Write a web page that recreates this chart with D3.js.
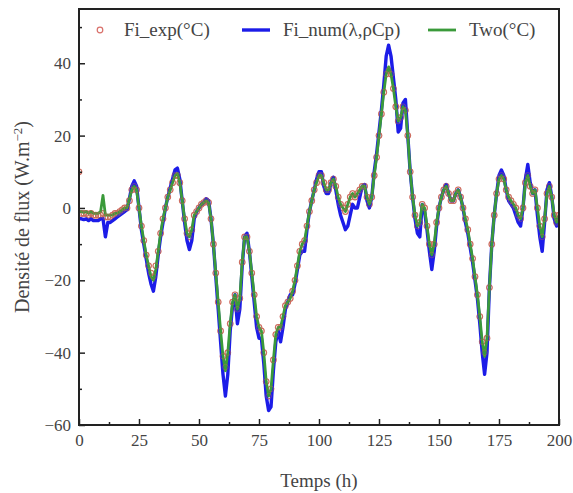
<!DOCTYPE html>
<html><head><meta charset="utf-8">
<script src="https://cdn.jsdelivr.net/npm/d3@7"></script>
<style>body{margin:0;background:#fff}svg{display:block}</style>
</head><body>
<svg id="c" width="573" height="493"></svg>
<script>
// hours 0..200 (hourly samples)
const hours = d3.range(0, 201);
const seriesNames = ["Fi_exp(°C)", "Fi_num(λ,ρCp)", "Two(°C)"];
const xTicks = [0,25,50,75,100,125,150,175,200];
const yTicks = [-60,-40,-20,0,20,40];

const twoVals = [
-1,-1,-1.2,-1,-1.5,-1,-1.5,-1.5,-1.5,-1,
3.5,-2,-2,-2,-2,-1.5,-1.5,-1,-0.5,0,
0,2.5,5,6,5,0,-5,-9,-13,-16,
-19,-20,-17,-12,-7,-3,0,3,5,7,
9,9.5,7,2,-3,-7,-8,-6,-2,-1,
0,1,1.5,2,1.5,-3,-10,-18,-26,-34,
-41,-45,-40,-32,-26,-24,-28,-25,-15,-8,
-8,-12,-18,-24,-30,-33,-34,-40,-48,-52,
-50,-42,-35,-33,-33,-30,-27,-26,-25,-23,
-20,-16,-12,-10,-9,-5,-1,2,5,7,
9,9,7,5,5,7,8,6,3,1,
0,-1,1,3,4,3,4,5,6,6,
3,1,3,9,14,20,26,32,37,39,
37,33,28,24,25,28,27,20,10,3,
-2,-5,-4,1,0,-5,-10,-13,-10,-4,
0,3,5,6,4,2,2,4,5,3,
0,-3,-6,-10,-14,-19,-24,-30,-37,-41,
-36,-22,-10,-2,4,8,9,8,5,3,
2,1,0,-2,-3,0,7,9,6,4,
5,0,-5,-8,-3,4,6,3,-2,-4,
-2];

const numVals = [
-3,-3,-3.2,-3,-3.5,-3,-3.5,-3.5,-3.5,-3,
-3,-8,-4,-4,-3.5,-3,-2.5,-2,-1.5,-1,
-0.5,2.5,6,7.5,6,0,-6,-10,-14,-18,
-21,-23,-19,-13,-8,-4,0,3,5.5,8,
10.5,11,8,2,-4,-9,-11.5,-9,-3,-1,
0,1,1.5,2.5,2,-3,-10,-19,-28,-37,
-46,-52,-46,-34,-27,-24,-32,-28,-16,-8,
-7,-12,-19,-26,-33,-36,-36,-43,-52,-56,
-55,-45,-37,-34,-37,-33,-28,-26,-24,-24,
-21,-17,-13,-12,-12,-6,-1,2,5,8,
10,10,6,4,4,7,8.5,5,1,-2,
-4,-6,-5,-2,1,0,0,3,6,6.5,
2,0,3,10,15,21,27,34,42,45,
42,36,30,21,22,29,30,20,10,3,
-3,-7,-8,1,-1,-6,-12,-17,-12,-5,
0,3,5,6.5,4,2,2,4,5,3,
0,-4,-7,-11,-15,-20,-25,-32,-40,-46,
-40,-22,-10,-2,4,9,10.5,9,5,2,
1,0,-2,-4,-5,0,8,12,7,4,
5,-2,-8,-12,-4,5,7,3,-3,-5,
-3];

const expVals = [
10,-1.5,-1.5,-1.5,-2,-1.5,-2,-2,-2,-2,
-1.5,-2.5,-2.5,-2.5,-2,-1.5,-1.5,-1,-0.5,0,
0,2,5,6,5,0,-5,-9,-13,-16,
-18,-19,-16,-12,-7,-3,0,3,5,7,
9,9,7,2,-3,-7,-8,-6,-2,-1,
0,1,1.5,2,1.5,-3,-10,-18,-26,-34,
-41,-44,-40,-32,-26,-24,-28,-25,-15,-8,
-8,-12,-18,-24,-30,-33,-34,-40,-48,-52,
-50,-42,-35,-33,-33,-30,-27,-26,-25,-23,
-20,-16,-12,-10,-9,-5,-1,2,5,7,
9,9,7,5,5,7,8,6,3,1,
0,-1,1,3,4,3,4,5,6,6,
3,1,3,9,14,20,26,32,37,38,
37,33,28,24,25,28,27,20,10,3,
-2,-5,-4,1,0,-5,-10,-13,-10,-4,
0,3,5,6,4,2,2,4,5,3,
0,-3,-6,-10,-14,-19,-24,-30,-37,-40,
-36,-22,-10,-2,4,8,9,8,5,3,
2,1,0,-2,-3,0,7,9,6,4,
5,0,-5,-8,-3,4,6,3,-2,-4,
-2];

const W = 573, H = 493;
const m = {left: 79, right: 14, top: 9, bottom: 68};
const svg = d3.select("#c");
const x = d3.scaleLinear().domain([0, 200]).range([m.left, W - m.right]);
const y = d3.scaleLinear().domain([-60, 55]).range([H - m.bottom, m.top]);
const font = "'Liberation Serif', 'Times New Roman', serif";

svg.append("clipPath").attr("id","clp").append("rect")
  .attr("x", m.left).attr("y", m.top).attr("width", x(200)-m.left).attr("height", y(-60)-m.top);

const g = svg.append("g").attr("clip-path","url(#clp)");
const line = vals => d3.line().x((d,i)=>x(hours[i])).y(d=>y(d))(vals);

// experimental circles
g.append("g").selectAll("circle").data(expVals).join("circle")
  .attr("cx",(d,i)=>x(hours[i])).attr("cy",d=>y(d)).attr("r",2.8)
  .attr("fill","none").attr("stroke","#d9706a").attr("stroke-width",1.1);
g.append("path").attr("d", line(numVals)).attr("fill","none")
  .attr("stroke","#1c1ce8").attr("stroke-width",3.4).attr("stroke-linejoin","round");
g.append("path").attr("d", line(twoVals)).attr("fill","none")
  .attr("stroke","#3a9a3a").attr("stroke-width",2.8).attr("stroke-linejoin","round");
// circles shown over the lines (faint)
g.append("g").selectAll("circle").data(expVals).join("circle")
  .attr("cx",(d,i)=>x(hours[i])).attr("cy",d=>y(d)).attr("r",2.8)
  .attr("fill","none").attr("stroke","#b86a50").attr("stroke-opacity",0.45).attr("stroke-width",1);

// axes
const xAxis = d3.axisBottom(x).tickValues(xTicks).tickSize(-6).tickPadding(9).tickFormat(d3.format("d"));
const yAxis = d3.axisLeft(y).tickValues(yTicks).tickSize(-6).tickPadding(8).tickFormat(d3.format("d"));
svg.append("g").attr("transform",`translate(0,${y(-60)})`).call(xAxis);
svg.append("g").attr("transform",`translate(${m.left},0)`).call(yAxis);
// minor ticks
svg.append("g").attr("transform",`translate(0,${y(-60)})`)
  .call(d3.axisBottom(x).tickValues(d3.range(12.5,200,25)).tickSize(-3).tickFormat(""));
svg.append("g").attr("transform",`translate(${m.left},0)`)
  .call(d3.axisLeft(y).tickValues([-50,-30,-10,10,30,50]).tickSize(-3).tickFormat(""));
svg.selectAll(".domain").remove();
svg.selectAll(".tick line").attr("stroke","#222").attr("stroke-width",1.5);
svg.selectAll(".tick text").attr("font-family",font).attr("font-size",17).attr("fill","#444");

// frame
svg.append("rect").attr("x",m.left).attr("y",m.top).attr("width",x(200)-m.left).attr("height",y(-60)-m.top)
  .attr("fill","none").attr("stroke","#222").attr("stroke-width",2);

// labels
svg.append("text").attr("x",(x(0)+x(200))/2).attr("y",487).attr("text-anchor","middle")
  .attr("font-family",font).attr("font-size",19).attr("fill","#444").text("Temps (h)");
const yl = svg.append("text").attr("transform",`translate(29,${(y(-60)+y(55))/2}) rotate(-90)`)
  .attr("text-anchor","middle").attr("font-family",font).attr("font-size",20).attr("fill","#444");
yl.append("tspan").text("Densité de flux (W.m");
yl.append("tspan").attr("baseline-shift","super").attr("font-size",13).text("−2");
yl.append("tspan").text(")");

// legend
const lg = svg.append("g").attr("font-family",font).attr("font-size",19).attr("fill","#444");
lg.append("circle").attr("cx",100).attr("cy",30).attr("r",2.8).attr("fill","none").attr("stroke","#d9706a").attr("stroke-width",1.2);
lg.append("text").attr("x",124).attr("y",36).text(seriesNames[0]);
lg.append("line").attr("x1",242).attr("x2",270).attr("y1",30).attr("y2",30).attr("stroke","#1c1ce8").attr("stroke-width",3.4);
lg.append("text").attr("x",283).attr("y",36).text(seriesNames[1]);
lg.append("line").attr("x1",428).attr("x2",456).attr("y1",30).attr("y2",30).attr("stroke","#3a9a3a").attr("stroke-width",2.8);
lg.append("text").attr("x",469).attr("y",36).text(seriesNames[2]);
</script>
</body></html>
